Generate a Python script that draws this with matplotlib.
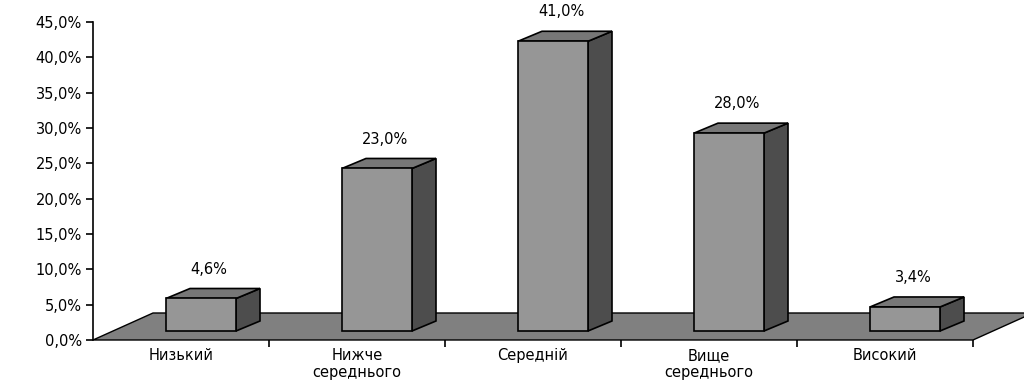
import matplotlib
matplotlib.use("Agg")
import matplotlib.pyplot as plt
from matplotlib.patches import Polygon
from matplotlib.ticker import MultipleLocator, FuncFormatter

categories = ["Низький", "Нижче\nсереднього", "Середній", "Вище\nсереднього", "Високий"]
values = [4.6, 23.0, 41.0, 28.0, 3.4]

plt.rcParams['font.family'] = ['DejaVu Sans']

W, H = 1024, 380
fig = plt.figure(figsize=(W / 100, H / 100), dpi=100)
# axes box in pixels: x 93..973, y 22..340 (from top)
ax = fig.add_axes([93 / W, 40 / H, 880 / W, 318 / H])
ax.set_xlim(0, len(categories))
ax.set_ylim(0, 45)

# pixel -> data unit conversion for the pseudo-3D offsets
ux = len(categories) / 880.0
uy = 45.0 / 318.0

front_c, side_c, top_c, floor_c = "#969696", "#4d4d4d", "#777777", "#808080"

# floor
floor = Polygon([(0, 0), (len(categories), 0),
                 (len(categories) + 60 * ux, 27 * uy), (60 * ux, 27 * uy)],
                closed=True, facecolor=floor_c, edgecolor="black", lw=1.0,
                clip_on=False, zorder=1)
ax.add_patch(floor)

bw = 70 * ux
dx, dy = 24 * ux, 10 * uy
base = 9 * uy
for i, v in enumerate(values):
    x0 = i + 0.5 - 15 * ux
    t = base + v
    front = [(x0, base), (x0 + bw, base), (x0 + bw, t), (x0, t)]
    side = [(x0 + bw, base), (x0 + bw + dx, base + dy), (x0 + bw + dx, t + dy), (x0 + bw, t)]
    top = [(x0, t), (x0 + bw, t), (x0 + bw + dx, t + dy), (x0 + dx, t + dy)]
    for pts, c in ((side, side_c), (top, top_c), (front, front_c)):
        ax.add_patch(Polygon(pts, closed=True, facecolor=c, edgecolor="black",
                             lw=1.2, clip_on=False, zorder=3))
    ax.annotate(f"{v:.1f}%".replace(".", ","), (x0 + bw / 2 + 8 * ux, t + dy),
                xytext=(0, 14), textcoords="offset points", ha="center",
                va="center", fontsize=10.5, annotation_clip=False)

for s in ("top", "right", "bottom"):
    ax.spines[s].set_visible(False)
ax.spines["left"].set_linewidth(1.2)

ax.yaxis.set_major_locator(MultipleLocator(5))
ax.yaxis.set_major_formatter(FuncFormatter(lambda y, p: f"{y:.1f}%".replace(".", ",")))
ax.tick_params(axis="y", length=5, width=1.2, labelsize=10.5, pad=3)

ax.set_xticks(range(1, len(categories) + 1))
ax.set_xticklabels([])
ax.set_xticks([i + 0.5 for i in range(len(categories))], minor=True)
ax.set_xticklabels(categories, minor=True, fontsize=10.5, linespacing=1.1)
ax.tick_params(axis="x", which="major", length=5, width=1.2, direction="out")
ax.tick_params(axis="x", which="minor", length=0, pad=6)

fig.savefig("out.png", dpi=100)
